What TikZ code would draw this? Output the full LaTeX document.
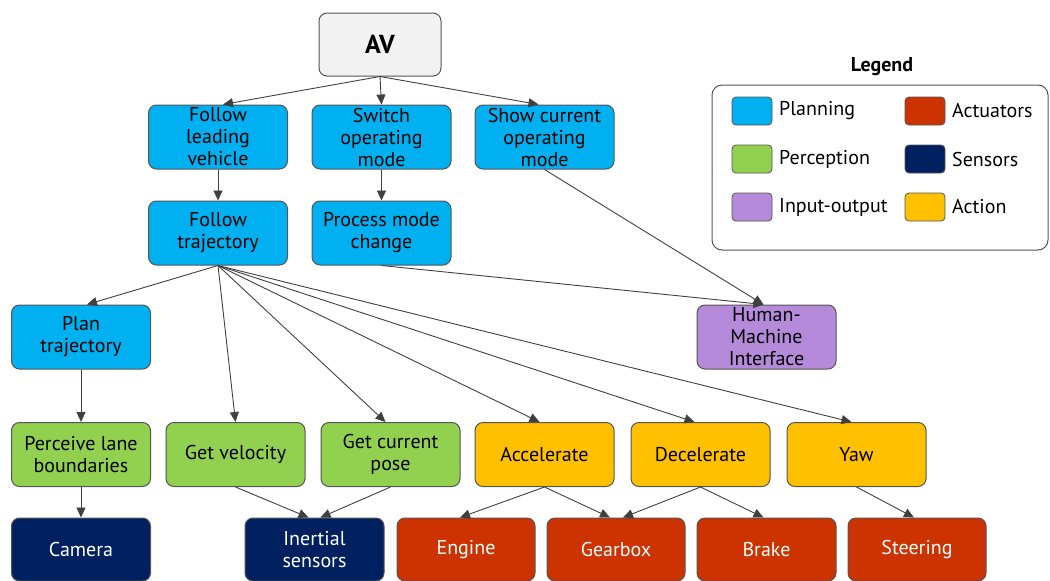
\documentclass[tikz,border=0pt]{standalone}
\usepackage{fontspec}
\setmainfont{PT Sans}
\usetikzlibrary{arrows.meta}
\definecolor{cplan}{HTML}{00B0F0}
\definecolor{cperc}{HTML}{92D050}
\definecolor{cio}{HTML}{B58ADB}
\definecolor{cact}{HTML}{CC3300}
\definecolor{csens}{HTML}{002060}
\definecolor{caction}{HTML}{FFC000}
\definecolor{cav}{HTML}{F2F2F2}
\definecolor{cborder}{HTML}{555555}
\definecolor{cline}{HTML}{404040}
\begin{document}
\begin{tikzpicture}[x=1pt,y=-1pt,
  box/.style={draw=cborder, line width=1pt, rounded corners=8pt,
    minimum width=139pt, minimum height=64pt, inner sep=0pt,
    align=center, font=\fontsize{20}{22}\selectfont},
  plan/.style={box, fill=cplan},
  perc/.style={box, fill=cperc},
  io/.style={box, fill=cio},
  actu/.style={box, fill=cact, text=white},
  sens/.style={box, fill=csens, text=white},
  actn/.style={box, fill=caction},
  swatch/.style={draw=cborder, line width=0.8pt, rounded corners=4pt,
    minimum width=40pt, minimum height=28pt, inner sep=0pt},
  legtext/.style={anchor=west, inner sep=0pt, font=\fontsize{20}{22}\selectfont},
  arr/.style={draw=cline, line width=0.9pt, -{Triangle[length=10pt,width=9pt]}}
]
\useasboundingbox (0,0) rectangle (1050,581);
% nodes
\node[box, fill=cav, minimum width=122pt, minimum height=63pt,
  font=\fontsize{26}{30}\selectfont\bfseries] (av) at (380,44.5) {AV};
\node[plan] (fl) at (218,137) {Follow\\leading\\vehicle};
\node[plan] (sw) at (381.5,137) {Switch\\operating\\mode};
\node[plan] (sc) at (544.5,137) {Show current\\operating\\mode};
\node[plan] (ft) at (218,233) {Follow\\trajectory};
\node[plan] (pm) at (381.5,233) {Process mode\\change};
\node[plan] (pt) at (81,337) {Plan\\trajectory};
\node[io] (hmi) at (766.5,337) {Human-\\Machine\\Interface};
\node[perc] (pl) at (81,454.5) {Perceive lane\\boundaries};
\node[perc] (gv) at (235.5,454.5) {Get velocity};
\node[perc] (gp) at (390.5,454.5) {Get current\\pose};
\node[actn] (acc) at (544.5,454.5) {Accelerate};
\node[actn] (dec) at (700.5,454.5) {Decelerate};
\node[actn] (yaw) at (856.5,454.5) {Yaw};
\node[sens, minimum height=63pt] (cam) at (81,549.5) {Camera};
\node[sens, minimum height=63pt] (ins) at (314.5,549.5) {Inertial\\sensors};
\node[actu, minimum height=63pt, minimum width=138pt] (eng) at (466,549.5) {Engine};
\node[actu, minimum height=63pt, minimum width=138pt] (gear) at (616,549.5) {Gearbox};
\node[actu, minimum height=63pt] (brake) at (766.5,549.5) {Brake};
\node[actu, minimum height=63pt, minimum width=138pt] (steer) at (917,549.5) {Steering};
% legend
\node[draw=cborder, line width=1pt, rounded corners=10pt, minimum width=336pt,
  minimum height=165pt, inner sep=0pt] (leg) at (880,167.5) {};
\node[font=\fontsize{20}{22}\selectfont\bfseries] (legt) at (882,67) {Legend};
\node[swatch, fill=cplan] (s1) at (752,111) {};
\node[swatch, fill=cperc] (s2) at (752,159) {};
\node[swatch, fill=cio] (s3) at (752,207) {};
\node[swatch, fill=cact] (s4) at (925,111) {};
\node[swatch, fill=csens] (s5) at (925,159) {};
\node[swatch, fill=caction] (s6) at (925,207) {};
\node[legtext] (l1) at (779,111) {Planning};
\node[legtext] (l2) at (779,159) {Perception};
\node[legtext] (l3) at (779,207) {Input-output};
\node[legtext] (l4) at (952,111) {Actuators};
\node[legtext] (l5) at (952,159) {Sensors};
\node[legtext] (l6) at (952,207) {Action};
% connectors
\draw[arr] (av.south) -- ([xshift=5pt]fl.north);
\draw[arr] (av.south) -- (sw.north);
\draw[arr] (av.south) -- ([xshift=-6pt]sc.north);
\draw[arr] (fl.south) -- (ft.north);
\draw[arr] (sw.south) -- (pm.north);
\draw[arr] (sc.south) -- ([xshift=-3pt]hmi.north);
\draw[arr] (pm.south) -- ([xshift=-3pt]hmi.north);
\draw[arr] (ft.south) -- ([xshift=6pt]pt.north);
\draw[arr] (ft.south) -- (gv.north);
\draw[arr] (ft.south) -- ([xshift=-5pt]gp.north);
\draw[arr] (ft.south) -- ([xshift=-5pt]acc.north);
\draw[arr] (ft.south) -- ([xshift=-6pt]dec.north);
\draw[arr] (ft.south) -- ([xshift=-5pt]yaw.north);
\draw[arr] (pt.south) -- (pl.north);
\draw[arr] (pl.south) -- (cam.north);
\draw[arr] (gv.south) -- ([xshift=-6pt]ins.north);
\draw[arr] (gp.south) -- ([xshift=6pt]ins.north);
\draw[arr] (acc.south) -- ([xshift=-6pt]eng.north);
\draw[arr] (acc.south) -- ([xshift=-6pt]gear.north);
\draw[arr] (dec.south) -- ([xshift=7pt]gear.north);
\draw[arr] (dec.south) -- ([xshift=-3pt]brake.north);
\draw[arr] (yaw.south) -- ([xshift=-3pt]steer.north);
\end{tikzpicture}
\end{document}
